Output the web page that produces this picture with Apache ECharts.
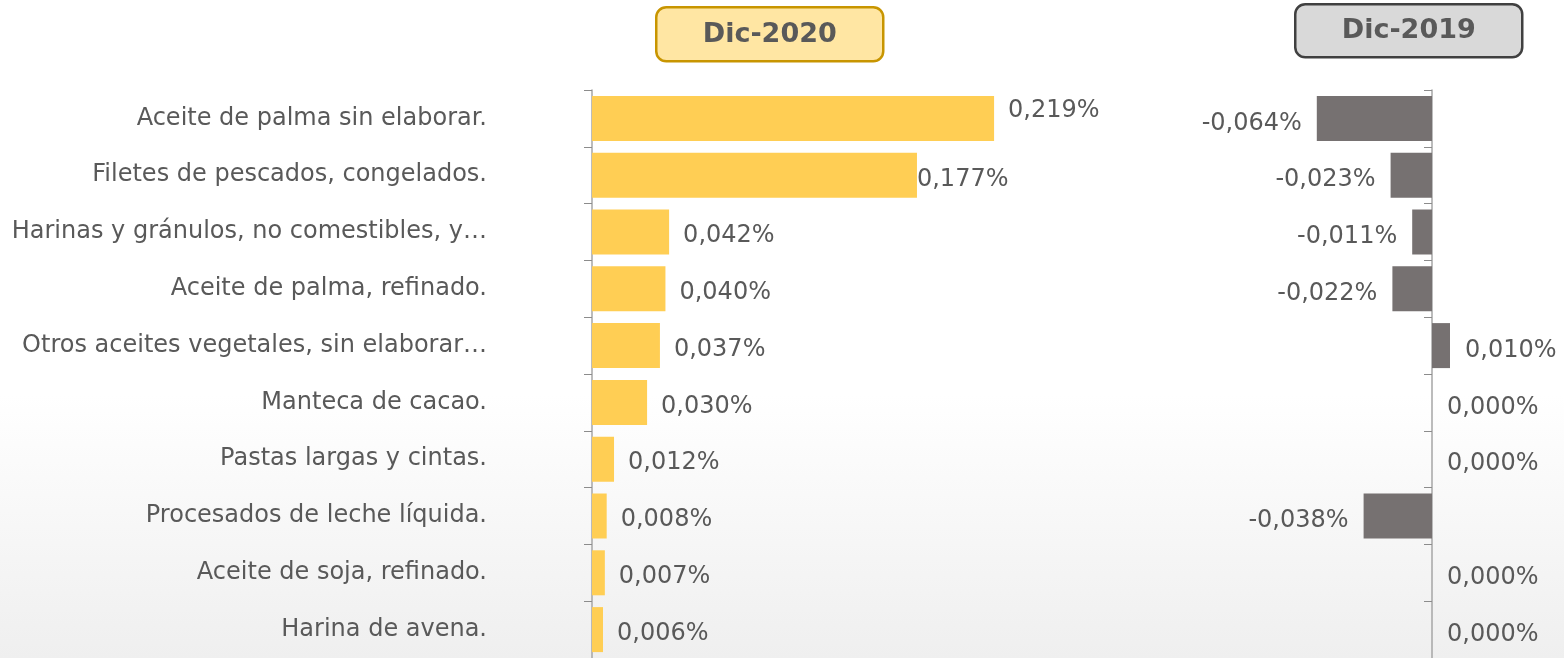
<!DOCTYPE html>
<html>
<head>
<meta charset="utf-8">
<script src="https://cdn.jsdelivr.net/npm/echarts@6/dist/echarts.min.js"></script>
<style>
  html, body { margin: 0; padding: 0; }
  #chart { width: 1564px; height: 658px; }
</style>
</head>
<body>
<div id="chart"></div>
<script>
const categories = [
  'Aceite de palma sin elaborar.',
  'Filetes de pescados, congelados.',
  'Harinas y gránulos, no comestibles, y…',
  'Aceite de palma, refinado.',
  'Otros aceites vegetales, sin elaborar…',
  'Manteca de cacao.',
  'Pastas largas y cintas.',
  'Procesados de leche líquida.',
  'Aceite de soja, refinado.',
  'Harina de avena.'
];
const values2020 = [0.219, 0.177, 0.042, 0.040, 0.037, 0.030, 0.012, 0.008, 0.007, 0.006];
const values2019 = [-0.064, -0.023, -0.011, -0.022, 0.010, 0.000, 0.000, -0.038, 0.000, 0.000];
const titles = ['Dic-2020', 'Dic-2019'];

const textColor = '#595959';
const fontFamily = 'DejaVu Sans';
const fontSize = 24;
const fmt = v => v.toFixed(3).replace('.', ',') + '%';

// small per-bar label nudges, as in the original
const labelTweaks2020 = {0: {offset: [0, -8]}, 1: {distance: 0, offset: [0, 5]}};

const chart = echarts.init(document.getElementById('chart'));

const data2020 = values2020.map((v, i) => {
  const item = {value: v};
  if (labelTweaks2020[i]) item.label = labelTweaks2020[i];
  return item;
});
const data2019 = values2019.map(v => ({
  value: v,
  label: {position: v < 0 ? 'left' : 'right'}
}));

const yAxisBase = {
  type: 'category',
  data: categories,
  inverse: true,
  axisLine: {lineStyle: {color: '#a6a6a6', width: 1.5}},
  axisTick: {show: true, length: 8, lineStyle: {color: '#8c8c8c'}}
};

const option = {
  backgroundColor: {
    type: 'linear', x: 0, y: 0, x2: 0, y2: 1,
    colorStops: [
      {offset: 0, color: '#ffffff'},
      {offset: 0.6, color: '#ffffff'},
      {offset: 1, color: '#efefef'}
    ]
  },
  textStyle: {fontFamily: fontFamily},
  grid: [
    {left: 592, top: 90, width: 459, height: 570},
    {left: 1288, top: 90, width: 180, height: 570}
  ],
  xAxis: [
    {gridIndex: 0, type: 'value', min: 0, max: 0.25, show: false},
    {gridIndex: 1, type: 'value', min: -0.08, max: 0.02, show: false}
  ],
  yAxis: [
    Object.assign({}, yAxisBase, {
      gridIndex: 0,
      axisLabel: {color: textColor, fontSize: fontSize, margin: 105, fontFamily: fontFamily}
    }),
    Object.assign({}, yAxisBase, {
      gridIndex: 1,
      axisLabel: {show: false}
    })
  ],
  graphic: [
    {
      type: 'group', left: 655, top: 6,
      children: [
        {type: 'rect', shape: {width: 227, height: 54, r: 10},
         style: {fill: '#ffe6a3', stroke: '#c89500', lineWidth: 2.5}},
        {type: 'text', x: 113.5, y: 28,
         style: {text: titles[0], fill: textColor, font: 'bold 27px ' + fontFamily,
                 align: 'center', verticalAlign: 'middle'}}
      ]
    },
    {
      type: 'group', left: 1294, top: 3,
      children: [
        {type: 'rect', shape: {width: 227, height: 53, r: 10},
         style: {fill: '#d9d9d9', stroke: '#404040', lineWidth: 2.5}},
        {type: 'text', x: 113.5, y: 27,
         style: {text: titles[1], fill: textColor, font: 'bold 27px ' + fontFamily,
                 align: 'center', verticalAlign: 'middle'}}
      ]
    }
  ],
  series: [
    {
      name: titles[0], type: 'bar', xAxisIndex: 0, yAxisIndex: 0,
      data: data2020, barWidth: 45,
      itemStyle: {color: '#ffce54'},
      label: {show: true, position: 'right', distance: 14, offset: [0, 4],
              color: textColor, fontSize: fontSize, fontFamily: fontFamily,
              formatter: p => fmt(p.value)}
    },
    {
      name: titles[1], type: 'bar', xAxisIndex: 1, yAxisIndex: 1,
      data: data2019, barWidth: 45,
      itemStyle: {color: '#767171'},
      label: {show: true, distance: 15, offset: [0, 5],
              color: textColor, fontSize: fontSize, fontFamily: fontFamily,
              formatter: p => fmt(p.value)}
    }
  ]
};

chart.setOption(option);
</script>
</body>
</html>
